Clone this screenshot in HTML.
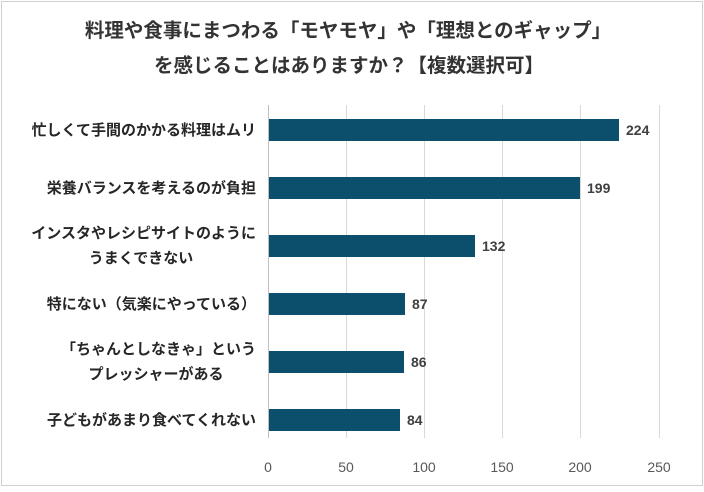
<!DOCTYPE html>
<html><head><meta charset="utf-8"><style>
body{margin:0;background:#fff;}
</style></head><body>
<svg width="704" height="487" xmlns="http://www.w3.org/2000/svg" font-family="'Liberation Sans','Noto Sans CJK JP',sans-serif">
<rect x="1.5" y="1.5" width="701" height="484" fill="#fff" stroke="#d0d0d0" stroke-width="1"/>
<g font-weight="bold" fill="#333" font-size="19.5" text-anchor="middle">
<text x="348" y="37">料理や食事にまつわる「モヤモヤ」や「理想とのギャップ」</text>
<text x="349" y="72">を感じることはありますか？【複数選択可】</text>
</g>
<g stroke="#d9d9d9" stroke-width="1">
<line x1="346.5" y1="105" x2="346.5" y2="438"/>
<line x1="424.5" y1="105" x2="424.5" y2="438"/>
<line x1="502.5" y1="105" x2="502.5" y2="438"/>
<line x1="580.5" y1="105" x2="580.5" y2="438"/>
<line x1="659.5" y1="105" x2="659.5" y2="438"/>
<line x1="268.5" y1="105" x2="268.5" y2="438" stroke="#bfbfbf"/>
</g>
<g fill="#0b4f6c">
<rect x="269" y="119" width="350" height="22"/>
<rect x="269" y="177" width="311" height="22"/>
<rect x="269" y="235" width="206" height="22"/>
<rect x="269" y="293" width="136" height="22"/>
<rect x="269" y="351" width="135" height="22"/>
<rect x="269" y="409" width="131" height="22"/>
</g>
<g font-weight="bold" fill="#404040" font-size="14">
<text x="626" y="135">224</text>
<text x="587" y="193">199</text>
<text x="482" y="251">132</text>
<text x="412" y="309">87</text>
<text x="411" y="367">86</text>
<text x="407" y="425">84</text>
</g>
<g font-weight="bold" fill="#262626" font-size="15" text-anchor="end">
<text x="256" y="135">忙しくて手間のかかる料理はムリ</text>
<text x="256" y="193">栄養バランスを考えるのが負担</text>
<text x="256" y="238">インスタやレシピサイトのように</text>
<text x="141" y="263" text-anchor="middle">うまくできない</text>
<text x="256" y="309">特にない（気楽にやっている）</text>
<text x="256" y="354">「ちゃんとしなきゃ」という</text>
<text x="156" y="379" text-anchor="middle">プレッシャーがある</text>
<text x="256" y="425">子どもがあまり食べてくれない</text>
</g>
<g fill="#595959" font-size="14" text-anchor="middle">
<text x="268" y="472">0</text>
<text x="346" y="472">50</text>
<text x="424" y="472">100</text>
<text x="502" y="472">150</text>
<text x="580" y="472">200</text>
<text x="659" y="472">250</text>
</g>
</svg>
</body></html>
